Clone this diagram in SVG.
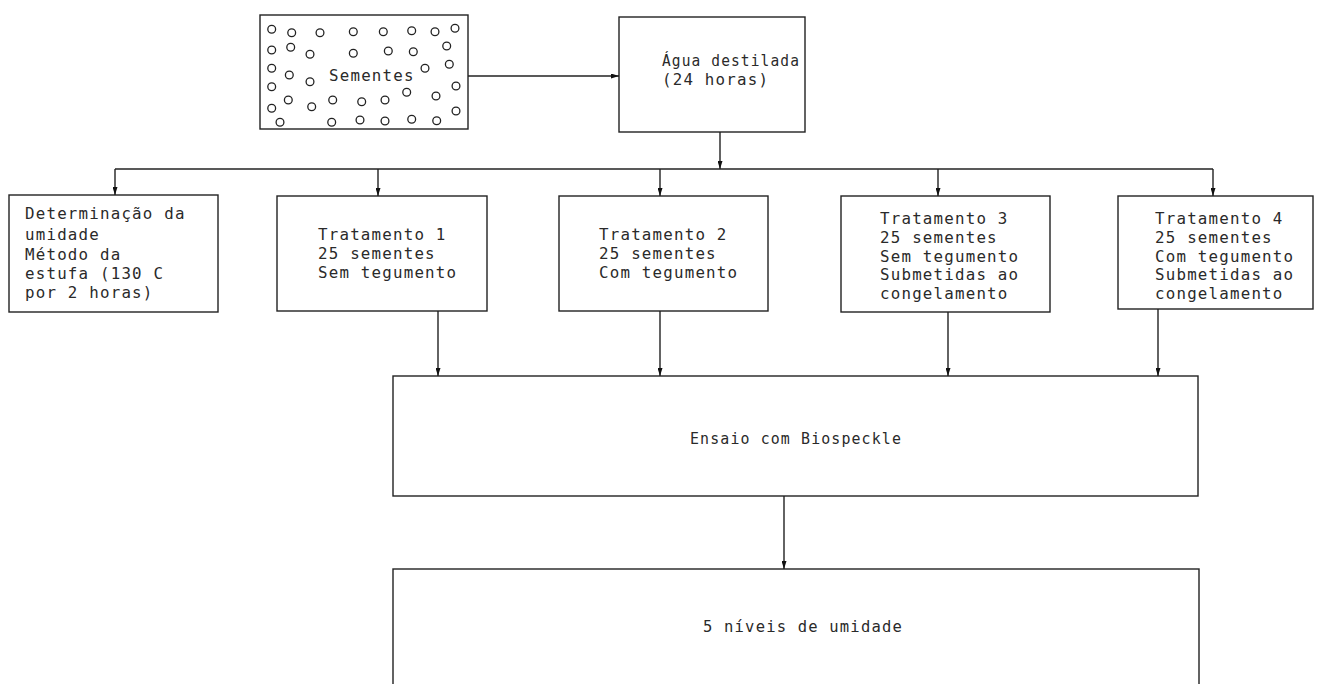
<svg xmlns="http://www.w3.org/2000/svg" width="1317" height="684" viewBox="0 0 1317 684">
  <style>
    .box { fill: #fff; stroke: #222; stroke-width: 1.4; }
    .seed { fill: none; stroke: #222; stroke-width: 1.3; }
    .lbl { font-family: "DejaVu Sans Mono", "Liberation Mono", monospace; font-size: 15.8px; letter-spacing: 1.2px; fill: #2a2a2a; }
    .wire { fill: none; stroke: #222; stroke-width: 1.4; }
    .arr { marker-end: url(#head); }
  </style>
  <defs>
    <marker id="head" viewBox="0 0 8 5" refX="8" refY="2.5" markerWidth="8" markerHeight="5" markerUnits="userSpaceOnUse" orient="auto">
      <path d="M0,0 L8,2.5 L0,5 z" fill="#111"/>
    </marker>
  </defs>
  <rect width="1317" height="684" fill="#fff"/>

  <!-- seed sample -->
  <g id="sementes">
    <rect class="box" x="260" y="15" width="208" height="114"/>
    <g class="seed">
      <circle cx="271.7" cy="29.3" r="3.9"/><circle cx="291.7" cy="32.7" r="3.9"/><circle cx="320" cy="32.7" r="3.9"/><circle cx="353.3" cy="31.7" r="3.9"/><circle cx="383.3" cy="31.7" r="3.9"/><circle cx="411.7" cy="30.7" r="3.9"/><circle cx="435" cy="31.7" r="3.9"/><circle cx="455" cy="28.3" r="3.9"/>
      <circle cx="271.7" cy="50" r="3.9"/><circle cx="290.7" cy="47.3" r="3.9"/><circle cx="310" cy="54.3" r="3.9"/><circle cx="353.3" cy="53.3" r="3.9"/><circle cx="388.3" cy="51" r="3.9"/><circle cx="413.3" cy="51.7" r="3.9"/><circle cx="446.7" cy="46" r="3.9"/>
      <circle cx="271.7" cy="68.3" r="3.9"/><circle cx="289.3" cy="75" r="3.9"/><circle cx="310" cy="81.7" r="3.9"/><circle cx="425" cy="68.3" r="3.9"/><circle cx="449.3" cy="64.3" r="3.9"/>
      <circle cx="271.7" cy="86.7" r="3.9"/><circle cx="288.3" cy="100" r="3.9"/><circle cx="311.7" cy="106.7" r="3.9"/><circle cx="332.7" cy="100" r="3.9"/><circle cx="361.7" cy="101.7" r="3.9"/><circle cx="385" cy="100" r="3.9"/><circle cx="406.7" cy="92.3" r="3.9"/><circle cx="436" cy="96" r="3.9"/><circle cx="456" cy="86" r="3.9"/>
      <circle cx="271.7" cy="108.3" r="3.9"/><circle cx="280" cy="122.3" r="3.9"/><circle cx="331.7" cy="122.3" r="3.9"/><circle cx="360" cy="120" r="3.9"/><circle cx="385" cy="121" r="3.9"/><circle cx="411.7" cy="119.3" r="3.9"/><circle cx="436.7" cy="120.7" r="3.9"/><circle cx="456" cy="111" r="3.9"/>
    </g>
    <text class="lbl" x="329" y="81">Sementes</text>
  </g>

  <g id="agua">
    <rect class="box" x="619" y="17" width="186" height="115"/>
    <text class="lbl" x="662" y="66" textLength="138" lengthAdjust="spacingAndGlyphs">Água destilada</text>
    <text class="lbl" x="662" y="85">(24 horas)</text>
  </g>

  <g id="umidade">
    <rect class="box" x="9" y="195" width="209" height="117"/>
    <text class="lbl" x="25" y="219">Determinação da</text>
    <text class="lbl" x="25" y="240">umidade</text>
    <text class="lbl" x="25" y="260">Método da</text>
    <text class="lbl" x="25" y="279">estufa (130 C</text>
    <text class="lbl" x="25" y="298">por 2 horas)</text>
  </g>

  <g id="tratamento1">
    <rect class="box" x="277" y="196" width="210" height="115"/>
    <text class="lbl" x="318" y="240">Tratamento 1</text>
    <text class="lbl" x="318" y="259">25 sementes</text>
    <text class="lbl" x="318" y="278">Sem tegumento</text>
  </g>

  <g id="tratamento2">
    <rect class="box" x="559" y="196" width="209" height="115"/>
    <text class="lbl" x="599" y="240">Tratamento 2</text>
    <text class="lbl" x="599" y="259">25 sementes</text>
    <text class="lbl" x="599" y="278">Com tegumento</text>
  </g>

  <g id="tratamento3">
    <rect class="box" x="841" y="196" width="209" height="116"/>
    <text class="lbl" x="880" y="224">Tratamento 3</text>
    <text class="lbl" x="880" y="242.75">25 sementes</text>
    <text class="lbl" x="880" y="261.5">Sem tegumento</text>
    <text class="lbl" x="880" y="280.25">Submetidas ao</text>
    <text class="lbl" x="880" y="299">congelamento</text>
  </g>

  <g id="tratamento4">
    <rect class="box" x="1118" y="196" width="195" height="113"/>
    <text class="lbl" x="1155" y="224">Tratamento 4</text>
    <text class="lbl" x="1155" y="242.75">25 sementes</text>
    <text class="lbl" x="1155" y="261.5">Com tegumento</text>
    <text class="lbl" x="1155" y="280.25">Submetidas ao</text>
    <text class="lbl" x="1155" y="299">congelamento</text>
  </g>

  <g id="ensaio">
    <rect class="box" x="393" y="376" width="805" height="120"/>
    <text class="lbl" x="690" y="444" textLength="212" lengthAdjust="spacingAndGlyphs">Ensaio com Biospeckle</text>
  </g>

  <g id="niveis">
    <rect class="box" x="393" y="569" width="806" height="140"/>
    <text class="lbl" x="703" y="632" textLength="200" lengthAdjust="spacingAndGlyphs">5 níveis de umidade</text>
  </g>

  <!-- flow lines -->
  <g id="connectors">
    <path class="wire arr" d="M468,76 H619"/>
    <path class="wire arr" d="M720,132 V169"/>
    <path class="wire" d="M115,169 H1213"/>
    <path class="wire arr" d="M115,169 V195"/>
    <path class="wire arr" d="M378,169 V196"/>
    <path class="wire arr" d="M660,169 V196"/>
    <path class="wire arr" d="M938,169 V196"/>
    <path class="wire arr" d="M1213,169 V196"/>
    <path class="wire arr" d="M438,311 V376"/>
    <path class="wire arr" d="M660,311 V376"/>
    <path class="wire arr" d="M948,312 V376"/>
    <path class="wire arr" d="M1158,309 V376"/>
    <path class="wire arr" d="M784,496 V569"/>
  </g>
</svg>
